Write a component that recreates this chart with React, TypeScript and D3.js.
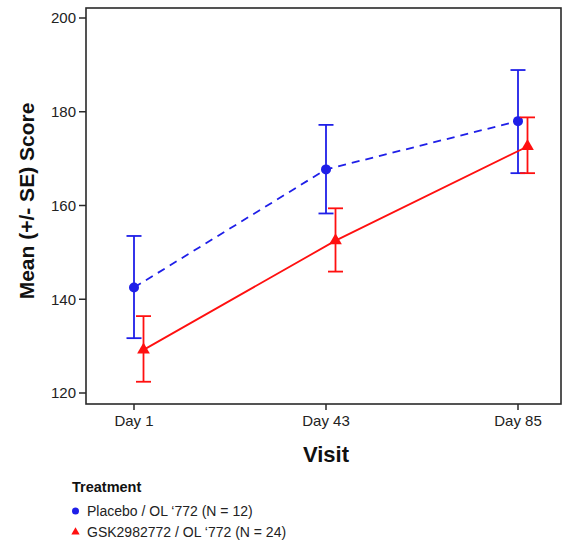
import React from "react";
import * as d3 from "d3";

const visits = ["Day 1", "Day 43", "Day 85"];
const placeboMean = [142.5, 167.7, 178.0];
const placeboLower = [131.7, 158.3, 166.9];
const placeboUpper = [153.5, 177.2, 188.9];
const gskMean = [129.2, 152.5, 172.6];
const gskLower = [122.4, 145.9, 166.9];
const gskUpper = [136.4, 159.4, 178.8];
const yTicks = [120, 140, 160, 180, 200];
const legendLabels = ["Placebo / OL \u2018772 (N = 12)", "GSK2982772 / OL \u2018772 (N = 24)"];

const W = 563;
const H = 543;
const FONT = "'Liberation Sans', Arial, sans-serif";

export default function App() {
  const left = 86, right = 561, top = 8, bottom = 404;
  const x = d3.scalePoint<string>().domain(visits).range([134, 518]);
  const y = d3.scaleLinear().domain([120, 200]).range([393, 18]);
  const blue = "#1f1fe8";
  const red = "#ff1010";

  const series = [
    { mean: placeboMean, lo: placeboLower, hi: placeboUpper, color: blue, off: 0, dash: "8,6", marker: "circle" },
    { mean: gskMean, lo: gskLower, hi: gskUpper, color: red, off: 9.5, dash: undefined, marker: "triangle" },
  ];

  const line = (s: typeof series[0]) =>
    d3.line<number>()
      .x((_, i) => (x(visits[i]) as number) + s.off)
      .y((d) => y(d))(s.mean) as string;

  const tri = d3.symbol().type(d3.symbolTriangle).size(70)() as string;
  const triSmall = d3.symbol().type(d3.symbolTriangle).size(30)() as string;

  return (
    <svg width={W} height={H} style={{ position: "absolute", left: 0, top: 0, background: "#fff" }} fontFamily={FONT}>
      {/* frame */}
      <rect x={left} y={top} width={right - left} height={bottom - top} fill="none" stroke="#2a2a2a" strokeWidth={1.6} />
      {/* y ticks */}
      {yTicks.map((t) => (
        <g key={t}>
          <line x1={left - 7} x2={left} y1={y(t)} y2={y(t)} stroke="#2a2a2a" strokeWidth={1.5} />
          <text x={left - 10} y={y(t)} dy="0.36em" textAnchor="end" fontSize={15} fill="#222">{t}</text>
        </g>
      ))}
      {/* x ticks */}
      {visits.map((v) => (
        <g key={v}>
          <line x1={x(v)} x2={x(v)} y1={bottom} y2={bottom + 6} stroke="#2a2a2a" strokeWidth={1.5} />
          <text x={x(v)} y={bottom + 22} textAnchor="middle" fontSize={15} fill="#222">{v}</text>
        </g>
      ))}
      {/* axis labels */}
      <text x={(x("Day 43") as number)} y={462} textAnchor="middle" fontSize={22} fontWeight="bold" fill="#111">Visit</text>
      <text transform={`translate(34,${201}) rotate(-90)`} textAnchor="middle" fontSize={21} fontWeight="bold" fill="#111">Mean (+/- SE) Score</text>

      {/* series */}
      {series.map((s, si) => (
        <g key={si}>
          <path d={line(s)} fill="none" stroke={s.color} strokeWidth={1.8} strokeDasharray={s.dash} />
          {s.mean.map((m, i) => {
            const cx = (x(visits[i]) as number) + s.off;
            return (
              <g key={i}>
                <line x1={cx} x2={cx} y1={y(s.lo[i])} y2={y(s.hi[i])} stroke={s.color} strokeWidth={1.8} />
                <line x1={cx - 7.5} x2={cx + 7.5} y1={y(s.lo[i])} y2={y(s.lo[i])} stroke={s.color} strokeWidth={1.8} />
                <line x1={cx - 7.5} x2={cx + 7.5} y1={y(s.hi[i])} y2={y(s.hi[i])} stroke={s.color} strokeWidth={1.8} />
                {s.marker === "circle" ? (
                  <circle cx={cx} cy={y(m)} r={5} fill={s.color} />
                ) : (
                  <path d={tri} transform={`translate(${cx},${y(m)})`} fill={s.color} />
                )}
              </g>
            );
          })}
        </g>
      ))}

      {/* legend */}
      <text x={72} y={492} fontSize={14.5} fontWeight="bold" fill="#111">Treatment</text>
      <circle cx={75.5} cy={511} r={3.5} fill={blue} />
      <text x={87} y={516} fontSize={14} fill="#222">{legendLabels[0]}</text>
      <path d={triSmall} transform={`translate(75.5,532)`} fill={red} />
      <text x={87} y={536.5} fontSize={14} fill="#222">{legendLabels[1]}</text>
    </svg>
  );
}
